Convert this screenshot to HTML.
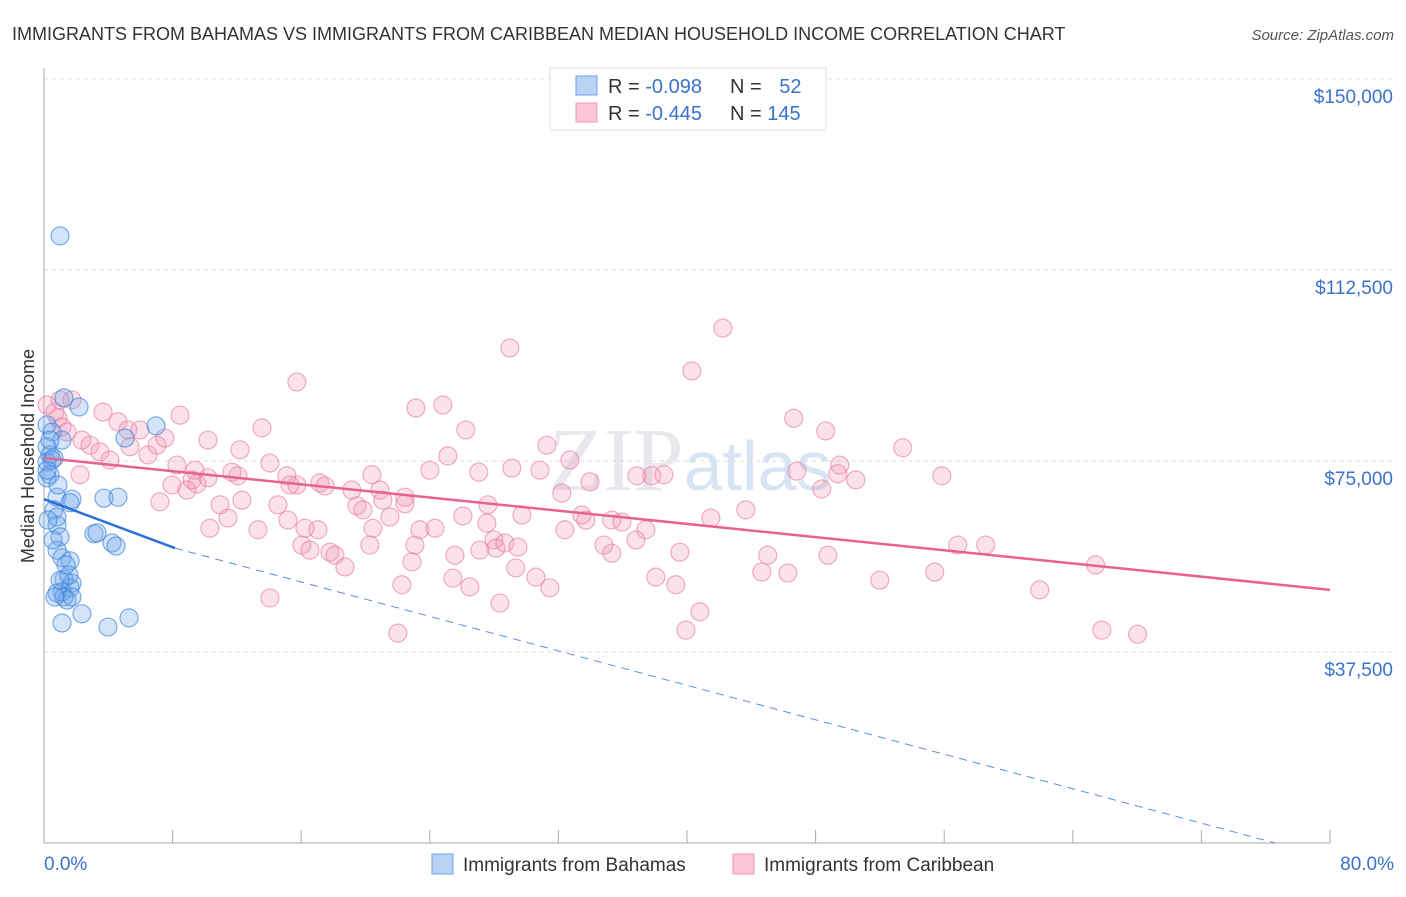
<!DOCTYPE html>
<html><head><meta charset="utf-8"><style>
body{margin:0;background:#fff;font-family:"Liberation Sans",sans-serif}
</style></head><body>
<svg id="c" width="1406" height="892" xmlns="http://www.w3.org/2000/svg" style="font-family:'Liberation Sans',sans-serif">
<text x="12" y="40" font-size="18" fill="#333">IMMIGRANTS FROM BAHAMAS VS IMMIGRANTS FROM CARIBBEAN MEDIAN HOUSEHOLD INCOME CORRELATION CHART</text>
<text x="1394" y="40" font-size="15" fill="#555" font-style="italic" text-anchor="end">Source: ZipAtlas.com</text>
<text x="690" y="490" font-size="90" fill="#e8e8ee" text-anchor="middle" font-family="Liberation Serif">ZIP<tspan fill="#d6e4f4" font-family="Liberation Sans" font-size="70">atlas</tspan></text>
<g id="grid"></g>
<g id="axes"></g>
<g id="pts"></g>
<g id="trend"></g>
<text x="34" y="456" font-size="18" fill="#333" text-anchor="middle" transform="rotate(-90 34 456)">Median Household Income</text>
<g>
<rect x="550" y="68" width="276" height="62" fill="#fff" stroke="#ddd"/>
<rect x="576" y="76" width="21" height="19" fill="#b9d3f5" stroke="#6fa3e8"/>
<rect x="576" y="103" width="21" height="19" fill="#fbc6d6" stroke="#ee9ab5"/>
<text x="608" y="93" font-size="20" fill="#333">R = <tspan fill="#3a72cc">-0.098</tspan></text>
<text x="730" y="93" font-size="20" fill="#333">N = <tspan fill="#3a72cc" dx="12">52</tspan></text>
<text x="608" y="120" font-size="20" fill="#333">R = <tspan fill="#3a72cc">-0.445</tspan></text>
<text x="730" y="120" font-size="20" fill="#333">N = <tspan fill="#3a72cc">145</tspan></text>
</g>
<g>
<rect x="432" y="854" width="21" height="20" fill="#b9d3f5" stroke="#6fa3e8"/>
<text x="463" y="871" font-size="19" fill="#333">Immigrants from Bahamas</text>
<rect x="733" y="854" width="21" height="20" fill="#fbc6d6" stroke="#ee9ab5"/>
<text x="764" y="871" font-size="19" fill="#333">Immigrants from Caribbean</text>
</g>
</svg>
<script>
const yTicks=[37500,75000,112500,150000];
const yTickLabels=["$37,500","$75,000","$112,500","$150,000"];
const xTickLabels=["0.0%","80.0%"];
const blueX=[1.0,1.24,2.18,6.97,5.04,0.19,0.5,1.12,0.19,0.37,0.19,0.5,0.62,0.37,0.81,1.74,1.62,3.73,4.6,0.62,0.81,0.81,1.0,3.11,3.3,4.23,4.48,0.81,1.12,1.62,1.24,1.74,1.12,1.62,0.81,1.24,1.43,1.74,2.36,5.29,1.12,3.98,0.19,0.37,0.19,0.25,0.68,1.0,1.55,0.56,1.37,0.87];
const blueY=[119.2,87.4,85.6,81.9,79.5,82.1,80.7,79.1,77.8,76.2,74.8,75.2,75.6,72.3,67.9,67.5,66.8,67.7,67.9,65.4,64.0,62.4,60.1,60.7,60.9,58.9,58.3,57.5,56.0,55.4,51.8,51.0,49.3,50.1,49.1,48.3,47.7,48.3,45.0,44.2,43.2,42.4,71.7,79.1,73.2,63.4,48.3,51.6,52.6,59.5,54.6,70.3];
const pinkX=[0.19,0.68,0.87,1.74,1.12,1.43,2.36,2.86,3.48,2.24,3.67,4.6,5.22,5.97,7.03,7.52,6.47,8.46,10.2,12.19,13.56,15.73,28.98,42.23,40.3,23.13,24.81,26.24,31.28,32.71,46.64,48.63,53.42,55.85,49.5,49.38,46.83,48.38,50.5,36.88,37.81,38.56,33.96,32.21,30.85,29.1,27.05,25.12,24.0,22.45,20.9,20.4,19.15,17.16,17.48,15.73,15.11,14.05,12.06,11.69,10.2,9.51,8.89,7.96,7.21,8.27,9.39,10.95,12.31,10.32,11.44,13.31,14.55,15.17,16.23,17.04,16.04,16.54,17.79,18.1,19.47,19.84,21.08,21.52,20.46,20.27,22.45,23.38,24.32,23.07,26.06,27.55,27.61,27.99,29.73,28.11,28.67,29.48,32.4,33.46,33.71,34.83,35.32,35.32,35.95,36.82,37.44,39.55,38.06,39.3,40.8,39.93,41.48,43.66,45.02,44.65,46.27,48.76,51.99,55.41,56.84,58.58,61.94,65.42,65.8,68.03,22.01,14.05,22.26,22.89,25.44,26.49,28.36,29.35,30.6,31.47,25.56,27.11,18.72,15.3,9.2,5.35,1.0,4.1];
const pinkY=[86.0,84.6,83.4,87.0,81.7,80.7,79.1,78.1,76.8,72.3,84.6,82.7,81.1,81.1,78.1,79.5,76.2,84.0,79.1,77.2,81.5,90.5,97.2,101.1,92.7,85.4,86.0,81.1,78.1,75.2,83.4,80.9,77.6,72.1,74.2,72.5,73.0,69.5,71.3,72.1,72.1,72.3,70.9,68.7,73.2,73.6,72.8,76.0,73.2,67.9,69.3,72.3,69.3,70.7,70.1,70.3,72.1,74.6,72.1,72.8,71.7,70.5,69.3,70.3,67.0,74.2,73.2,66.4,67.3,61.8,63.8,61.5,66.4,63.4,61.8,61.5,58.5,57.5,57.1,56.5,66.2,65.4,67.3,64.0,61.8,58.5,66.6,61.5,61.8,58.5,64.2,62.8,66.4,59.5,64.4,57.9,58.9,58.1,61.5,64.4,63.4,58.5,63.4,56.9,63.0,59.5,61.5,57.1,52.2,50.7,45.4,41.8,63.8,65.4,56.5,53.2,53.0,56.5,51.6,53.2,58.5,58.5,49.7,54.6,41.8,41.0,41.2,48.1,50.7,55.2,52.0,50.3,47.1,54.0,52.2,50.1,56.5,57.5,54.2,70.3,71.3,77.8,87.0,75.2];
const blueTrend=[[0,67.5],[8.14,57.9],[76.6,0]];
const pinkTrend=[[0,75.6],[80,49.7]];
const NS="http://www.w3.org/2000/svg";
const X=v=>44+v*(1330-44)/80;
const Y=v=>843-v*191/37500;
const YK=v=>Y(v*1000);
function mk(tag,attrs,parent){const e=document.createElementNS(NS,tag);for(const k in attrs)e.setAttribute(k,attrs[k]);document.getElementById(parent).appendChild(e);return e;}
yTicks.forEach((t,i)=>{
 const l=mk('line',{x1:44,x2:1394,y1:Y(t),y2:Y(t),stroke:'#ddd','stroke-dasharray':'4,4'},'grid');
 
 
 const tx=mk('text',{x:1393,y:Y(t)+24,'font-size':19,fill:'#3a72cc','text-anchor':'end'},'axes');
 tx.textContent=yTickLabels[i];
 
 
});
const ax=mk('line',{x1:44,x2:44,y1:68,y2:843,stroke:'#aaa'},'axes');


const bx=mk('line',{x1:44,x2:1330,y1:843,y2:843,stroke:'#aaa'},'axes');


for(let i=0;i<=10;i++){
 const t=mk('line',{x1:X(i*8),x2:X(i*8),y1:830,y2:843,stroke:'#aaa'},'axes');
 
 
}
const xl0=mk('text',{x:44,y:870,'font-size':19,fill:'#3a72cc'},'axes');xl0.textContent=xTickLabels[0];


const xl1=mk('text',{x:1394,y:870,'font-size':19,fill:'#3a72cc','text-anchor':'end'},'axes');xl1.textContent=xTickLabels[1];


pinkX.forEach((v,i)=>{
 const c=mk('circle',{cx:X(v),cy:YK(pinkY[i]),r:9,fill:'rgba(242,150,180,0.28)',stroke:'rgba(232,120,160,0.6)','stroke-width':1.2},'pts');
 
 
});
blueX.forEach((v,i)=>{
 const c=mk('circle',{cx:X(v),cy:YK(blueY[i]),r:9,fill:'rgba(110,165,235,0.3)',stroke:'rgba(60,130,220,0.65)','stroke-width':1.2},'pts');
 
 
});
const pl=mk('line',{x1:X(pinkTrend[0][0]),y1:YK(pinkTrend[0][1]),x2:X(pinkTrend[1][0]),y2:YK(pinkTrend[1][1]),stroke:'#e8628f','stroke-width':2.5},'trend');


const bl=mk('line',{x1:X(blueTrend[0][0]),y1:YK(blueTrend[0][1]),x2:X(blueTrend[1][0]),y2:YK(blueTrend[1][1]),stroke:'#2a6fd6','stroke-width':2.5},'trend');


const bd=mk('line',{x1:X(blueTrend[1][0]),y1:YK(blueTrend[1][1]),x2:X(blueTrend[2][0]),y2:YK(blueTrend[2][1]),stroke:'#5b8fdc','stroke-width':1,'stroke-dasharray':'8,6'},'trend');


</script>
</body></html>
